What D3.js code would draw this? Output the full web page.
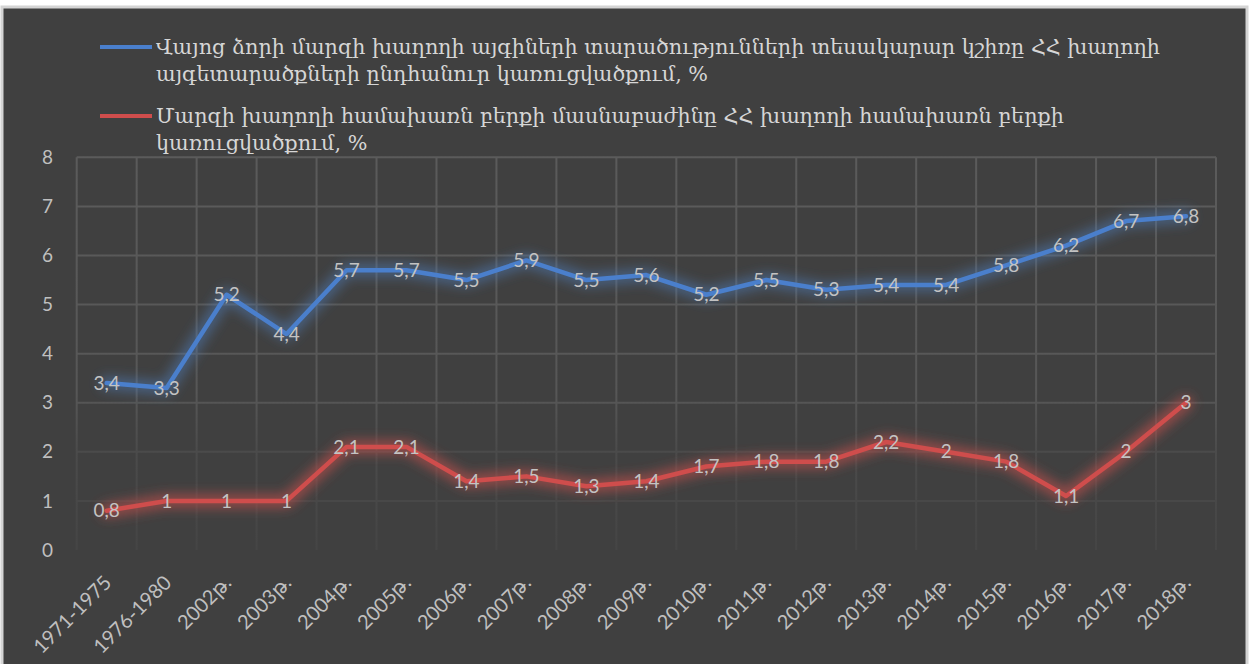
<!DOCTYPE html>
<html><head><meta charset="utf-8">
<script src="https://cdn.jsdelivr.net/npm/d3@7"></script>
<style>
html,body{margin:0;padding:0;background:#ffffff;}
svg{display:block;}
</style></head>
<body>
<svg id="chart" width="1249" height="664"></svg>
<script>
const categories = ["1971-1975","1976-1980","2002թ.","2003թ.","2004թ.","2005թ.","2006թ.","2007թ.","2008թ.","2009թ.","2010թ.","2011թ.","2012թ.","2013թ.","2014թ.","2015թ.","2016թ.","2017թ.","2018թ."];
const seriesVineyard = [3.4,3.3,5.2,4.4,5.7,5.7,5.5,5.9,5.5,5.6,5.2,5.5,5.3,5.4,5.4,5.8,6.2,6.7,6.8];
const seriesHarvest = [0.8,1,1,1,2.1,2.1,1.4,1.5,1.3,1.4,1.7,1.8,1.8,2.2,2,1.8,1.1,2,3];
const yTicks = [0,1,2,3,4,5,6,7,8];
const legendVineyard = ["Վայոց ձորի մարզի խաղողի այգիների տարածությունների տեսակարար կշիռը ՀՀ խաղողի","այգետարածքների ընդհանուր կառուցվածքում, %"];
const legendHarvest = ["Մարզի խաղողի համախառն բերքի մասնաբաժինը ՀՀ խաղողի համախառն բերքի","կառուցվածքում, %"];

const svg = d3.select("#chart");
const W = 1249, H = 664;
const plot = {left:76.7, right:1216, top:157.3, bottom:550};
const numFont = "Lato, 'Open Sans', sans-serif";

// frame
svg.append("rect").attr("x",2).attr("y",7).attr("width",W-4).attr("height",H-7+10)
  .attr("fill","#404040").attr("stroke","#d4d4d4").attr("stroke-width",3);

const defs = svg.append("defs");
const grad = defs.append("linearGradient").attr("id","gridGrad")
  .attr("gradientUnits","userSpaceOnUse").attr("x1",0).attr("x2",0)
  .attr("y1",plot.top).attr("y2",plot.bottom);
grad.append("stop").attr("offset","0%").attr("stop-color","#5b5b5b");
grad.append("stop").attr("offset","60%").attr("stop-color","#575757");
grad.append("stop").attr("offset","75%").attr("stop-color","#4b4b4b");
grad.append("stop").attr("offset","100%").attr("stop-color","#454545");
const glow = defs.append("filter").attr("id","glow").attr("x","-10%").attr("y","-60%").attr("width","120%").attr("height","220%");
glow.append("feGaussianBlur").attr("stdDeviation",6);

const x = d3.scaleBand().domain(categories).range([plot.left, plot.right]);
const y = d3.scaleLinear().domain([0,8]).range([plot.bottom, plot.top]);

// grid
const g = svg.append("g");
g.selectAll("line.h").data(yTicks.filter(d=>d>0)).join("line")
  .attr("x1",plot.left).attr("x2",plot.right)
  .attr("y1",d=>y(d)).attr("y2",d=>y(d))
  .attr("stroke","url(#gridGrad)").attr("stroke-width",2);
const vb = categories.map(c=>x(c)).concat([plot.right]);
g.selectAll("line.v").data(vb).join("line")
  .attr("x1",d=>d).attr("x2",d=>d)
  .attr("y1",plot.top).attr("y2",plot.bottom)
  .attr("stroke","url(#gridGrad)").attr("stroke-width",2);

// y axis labels
const yAxis = d3.axisLeft(y).tickValues(yTicks).tickSize(0).tickPadding(0).tickFormat(d3.format("d"));
const ya = svg.append("g").attr("transform",`translate(53,0)`).call(yAxis);
ya.select(".domain").remove();
ya.selectAll("text").attr("fill","#bfbfbf").attr("font-family",numFont).attr("font-size",19);

// x axis labels
const xAxis = d3.axisBottom(x).tickSize(0).tickPadding(0);
const xa = svg.append("g").attr("transform",`translate(0,${plot.bottom})`).call(xAxis);
xa.select(".domain").remove();
xa.selectAll("text")
  .attr("fill","#bfbfbf").attr("font-family",numFont).attr("font-size",20)
  .attr("text-anchor","end").attr("dy","0.35em")
  .attr("transform","translate(1,29) rotate(-45)");

const cx = c => x(c) + x.bandwidth()/2;
function drawSeries(vals, color, glowColor, glowOp){
  const pts = categories.map((c,i)=>[cx(c), y(vals[i])]);
  const line = d3.line();
  svg.append("path").attr("d",line(pts)).attr("fill","none")
    .attr("stroke",glowColor).attr("stroke-width",14).attr("stroke-opacity",glowOp)
    .attr("stroke-linejoin","round").attr("stroke-linecap","round").attr("filter","url(#glow)");
  svg.append("path").attr("d",line(pts)).attr("fill","none")
    .attr("stroke",color).attr("stroke-width",4.5).attr("stroke-linejoin","round").attr("stroke-linecap","round");
  svg.append("g").selectAll("text").data(vals).join("text")
    .attr("x",(d,i)=>cx(categories[i])).attr("y",d=>y(d)).attr("dy","0.35em")
    .attr("text-anchor","middle").attr("fill","#c3c3c3")
    .attr("font-family",numFont).attr("font-size",19)
    .text(d=>String(d).replace(".",","));
}
drawSeries(seriesVineyard, "#4a7fcc", "#4f7fbd", 0.5);
drawSeries(seriesHarvest, "#cf4d4c", "#c0504d", 0.65);

// legend
const legend = svg.append("g");
function legendItem(lines, color, y0){
  legend.append("line").attr("x1",100).attr("x2",152).attr("y1",y0).attr("y2",y0)
    .attr("stroke",color).attr("stroke-width",4);
  const t = legend.append("text").attr("x",156).attr("y",y0).attr("fill","#d6d6d6")
    .attr("font-family","'DejaVu Serif', serif").attr("font-size",20);
  lines.forEach((l,i)=>t.append("tspan").attr("x",156).attr("dy", i===0 ? "0.35em" : 27).text(l));
  return t;
}
const t1 = legendItem(legendVineyard, "#4a7fcc", 47);
const t2 = legendItem(legendHarvest, "#cf4d4c", 116);
// fit font size so the first legend line spans the same width as reference
const w1 = t1.select("tspan").node().getComputedTextLength();
const fs = 20 * 1005 / w1;
t1.attr("font-size",fs); t2.attr("font-size",fs);
</script>
</body></html>
